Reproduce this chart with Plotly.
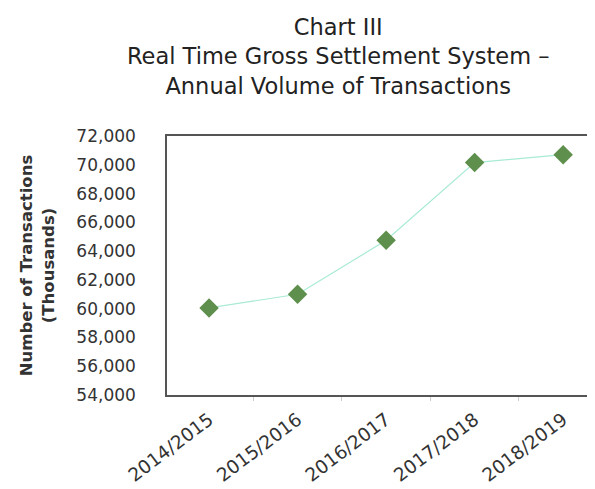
import plotly.graph_objects as go

years = ["2014/2015", "2015/2016", "2016/2017", "2017/2018", "2018/2019"]
transactions = [60050, 61000, 64750, 70150, 70700]
y_ticks = [54000, 56000, 58000, 60000, 62000, 64000, 66000, 68000, 70000, 72000]

FONT = "DejaVu Sans"

fig = go.Figure()
fig.add_trace(go.Scatter(
    x=years, y=transactions, mode="lines+markers",
    line=dict(color="#a8ead6", width=1.2),
    marker=dict(symbol="diamond", size=15, color="#5e8f4c"),
    showlegend=False,
))

fig.update_layout(
    width=595, height=489,
    margin=dict(l=159, r=0, t=128, b=102),
    paper_bgcolor="white", plot_bgcolor="white",
    title=dict(
        text="Chart III<br>Real Time Gross Settlement System –<br>Annual Volume of Transactions",
        x=0.555, xanchor="center", y=1 - 27 / 489, yanchor="middle",
        font=dict(family=FONT, size=22.5, color="#222"),
    ),
    xaxis=dict(
        type="category", range=[-0.475, 4.45], automargin=False,
        showline=True, linecolor="#555", linewidth=1.5, mirror=True,
        ticks="outside", tickson="boundaries", ticklen=4, tickcolor="#ccc",
        tickangle=-37, ticklabelstandoff=5,
        tickfont=dict(family=FONT, size=18.5, color="#333"),
        showgrid=False,
    ),
    yaxis=dict(
        range=[54000, 72000], tickvals=y_ticks, tickformat=",", automargin=False,
        showline=True, linecolor="#555", linewidth=1.5,
        ticks="", ticklabelstandoff=26,
        tickfont=dict(family=FONT, size=17, color="#333"),
        showgrid=False, zeroline=False,
        title=dict(text="<b>Number of Transactions<br>(Thousands)</b>",
                   font=dict(family=FONT, size=16.5, color="#333"), standoff=18),
    ),
)

fig.write_html("out.html")
